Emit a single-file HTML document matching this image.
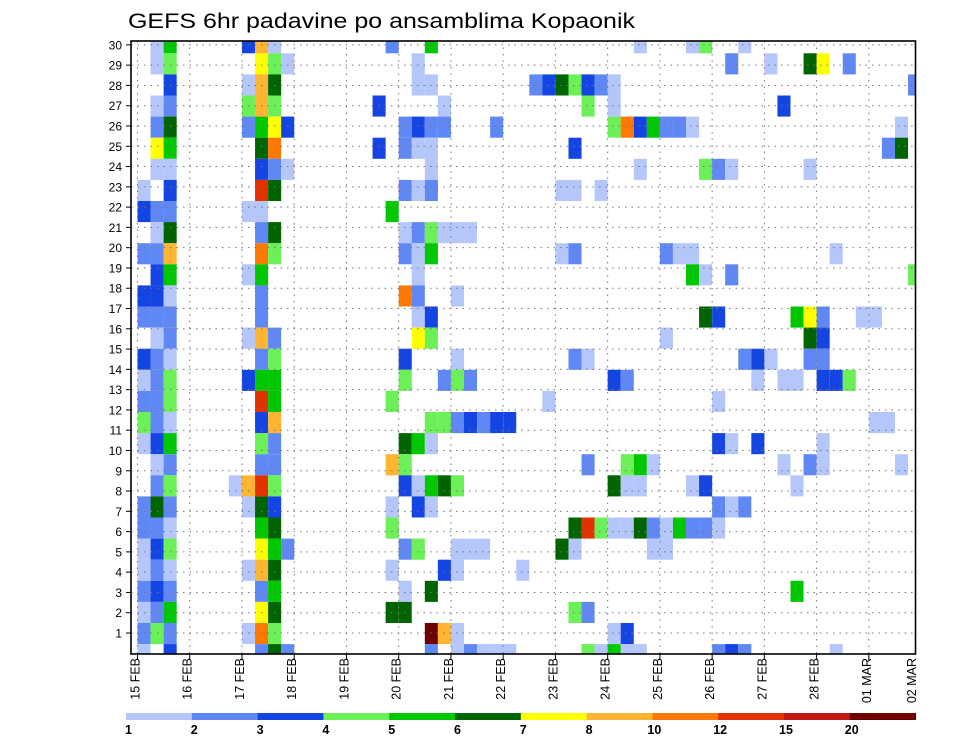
<!DOCTYPE html>
<html><head><meta charset="utf-8"><style>
html,body{margin:0;padding:0;background:#fff;}
svg{display:block;font-family:"Liberation Sans",sans-serif;}
</style></head><body>
<svg id="chart" width="960" height="742" viewBox="0 0 960 742" xmlns="http://www.w3.org/2000/svg">
<rect width="960" height="742" fill="#fff"/>
<text x="128" y="28" font-size="21" textLength="507" lengthAdjust="spacingAndGlyphs" fill="#000">GEFS 6hr padavine po ansamblima Kopaonik</text>
<g id="grid"></g><g id="cells"></g><g id="axes"></g><g id="legend"></g>
</svg>
<script>
// ---- data ----
const dayLabels = ["15 FEB","16 FEB","17 FEB","18 FEB","19 FEB","20 FEB","21 FEB","22 FEB","23 FEB","24 FEB","25 FEB","26 FEB","27 FEB","28 FEB","01 MAR","02 MAR"];
const memberTicks = [1,2,3,4,5,6,7,8,9,10,11,12,13,14,15,16,17,18,19,20,21,22,23,24,25,26,27,28,29,30];
const levelBounds = [1,2,3,4,5,6,7,8,10,12,15,20];
const levelLabels = ["1","2","3","4","5","6","7","8","10","12","15","20"];
const levelColors = ["#b4c6fa","#5f88f5","#1444e2","#6cf057","#00c800","#006400","#ffff00","#ffb432","#ff7800","#e23200","#c01818","#6e0000"];
// rows top->bottom, each entry [6h step index, precipitation mm]
const memberPrecip = [
[[1,1.5],[2,5.5],[8,3.5],[9,9],[10,1.5],[19,2.5],[22,5.5],[38,1.5],[42,1.5],[43,4.5],[46,1.5]],
[[1,1.5],[2,4.5],[9,7.5],[10,4.5],[11,1.5],[21,1.5],[45,2.5],[48,1.5],[51,6.5],[52,7.5],[54,2.5]],
[[2,3.5],[8,1.5],[9,9],[10,6.5],[21,1.5],[22,1.5],[30,2.5],[31,3.5],[32,6.5],[33,4.5],[34,3.5],[35,2.5],[36,1.5],[59,2.5]],
[[1,1.5],[2,2.5],[8,4.5],[9,9],[10,4.5],[18,3.5],[23,1.5],[34,4.5],[36,1.5],[49,3.5]],
[[1,2.5],[2,6.5],[8,2.5],[9,5.5],[10,7.5],[11,3.5],[20,2.5],[21,3.5],[22,2.5],[23,2.5],[27,2.5],[36,4.5],[37,11],[38,3.5],[39,5.5],[40,2.5],[41,2.5],[42,1.5],[58,1.5]],
[[1,7.5],[2,5.5],[9,6.5],[10,11],[18,3.5],[20,2.5],[21,1.5],[22,1.5],[33,3.5],[57,2.5],[58,6.5]],
[[1,1.5],[2,1.5],[9,3.5],[10,2.5],[11,1.5],[22,1.5],[38,1.5],[43,4.5],[44,2.5],[45,1.5],[51,1.5]],
[[0,1.5],[2,3.5],[9,13],[10,6.5],[20,2.5],[21,1.5],[22,2.5],[32,1.5],[33,1.5],[35,1.5]],
[[0,3.5],[1,2.5],[2,2.5],[8,1.5],[9,1.5],[19,5.5]],
[[1,1.5],[2,6.5],[9,2.5],[10,6.5],[20,1.5],[21,2.5],[22,4.5],[23,1.5],[24,1.5],[25,1.5]],
[[0,2.5],[1,2.5],[2,9],[9,11],[10,4.5],[20,2.5],[21,1.5],[22,5.5],[32,1.5],[33,2.5],[40,2.5],[41,1.5],[42,1.5],[53,1.5]],
[[1,3.5],[2,5.5],[8,1.5],[9,5.5],[21,1.5],[42,5.5],[43,1.5],[45,2.5],[59,4.5]],
[[0,3.5],[1,3.5],[2,1.5],[9,2.5],[20,11],[21,2.5],[24,1.5]],
[[0,2.5],[1,2.5],[2,2.5],[9,2.5],[21,1.5],[22,3.5],[43,6.5],[44,3.5],[50,5.5],[51,7.5],[52,2.5],[55,1.5],[56,1.5]],
[[1,1.5],[2,2.5],[8,1.5],[9,9],[10,2.5],[21,7.5],[22,4.5],[40,1.5],[51,6.5],[52,3.5]],
[[0,3.5],[1,2.5],[2,1.5],[9,2.5],[10,4.5],[20,3.5],[24,1.5],[33,2.5],[34,1.5],[46,2.5],[47,3.5],[48,1.5],[51,2.5],[52,2.5]],
[[0,1.5],[1,2.5],[2,4.5],[8,3.5],[9,5.5],[10,5.5],[20,4.5],[23,2.5],[24,4.5],[25,2.5],[36,3.5],[37,2.5],[47,1.5],[49,1.5],[50,1.5],[52,3.5],[53,3.5],[54,4.5]],
[[0,2.5],[1,2.5],[2,4.5],[9,13],[10,5.5],[19,4.5],[31,1.5],[44,1.5]],
[[0,4.5],[1,2.5],[2,1.5],[9,3.5],[10,9],[22,4.5],[23,4.5],[24,2.5],[25,3.5],[26,2.5],[27,3.5],[28,3.5],[56,1.5],[57,1.5]],
[[0,1.5],[1,3.5],[2,5.5],[9,4.5],[10,2.5],[20,6.5],[21,5.5],[22,1.5],[44,3.5],[45,1.5],[47,3.5],[52,1.5]],
[[1,1.5],[2,2.5],[9,2.5],[10,2.5],[19,9],[20,4.5],[34,2.5],[37,4.5],[38,5.5],[39,1.5],[49,1.5],[51,2.5],[52,1.5],[58,1.5]],
[[1,2.5],[2,4.5],[7,1.5],[8,9],[9,13],[10,4.5],[20,3.5],[21,1.5],[22,5.5],[23,6.5],[24,4.5],[36,6.5],[37,1.5],[38,1.5],[42,1.5],[43,3.5],[50,1.5]],
[[0,2.5],[1,6.5],[2,2.5],[8,1.5],[9,6.5],[10,3.5],[19,1.5],[21,3.5],[22,1.5],[44,2.5],[45,1.5],[46,2.5]],
[[0,2.5],[1,2.5],[2,1.5],[9,5.5],[10,6.5],[19,4.5],[33,6.5],[34,13],[35,4.5],[36,1.5],[37,1.5],[38,6.5],[39,2.5],[40,1.5],[41,5.5],[42,2.5],[43,2.5],[44,1.5]],
[[0,1.5],[1,3.5],[2,4.5],[9,7.5],[10,5.5],[11,2.5],[20,2.5],[21,4.5],[24,1.5],[25,1.5],[26,1.5],[32,6.5],[33,1.5],[39,1.5],[40,1.5]],
[[0,1.5],[1,2.5],[2,1.5],[8,1.5],[9,9],[10,6.5],[19,1.5],[23,3.5],[24,1.5],[29,1.5]],
[[0,2.5],[1,3.5],[2,2.5],[9,2.5],[10,5.5],[20,1.5],[22,6.5],[50,5.5]],
[[0,1.5],[1,2.5],[2,5.5],[9,7.5],[10,6.5],[19,6.5],[20,6.5],[33,4.5],[34,2.5]],
[[0,2.5],[1,4.5],[2,2.5],[8,1.5],[9,11],[10,4.5],[22,25],[23,9],[24,1.5],[36,1.5],[37,3.5]],
[[0,1.5],[2,3.5],[9,2.5],[10,6.5],[11,2.5],[22,2.5],[24,1.5],[25,2.5],[26,1.5],[27,1.5],[28,1.5],[34,4.5],[35,1.5],[36,5.5],[37,1.5],[38,1.5],[44,2.5],[45,3.5],[46,2.5],[53,1.5]]
];
// ---- geometry ----
const NS="http://www.w3.org/2000/svg";
const PL=131, PR=915.5, PT=41, PB=654;
const STEP=13.06, X0=137.5;
function xStep(t){return X0+STEP*t;}
function yRowTop(i){return 32.2+21.1*i;}
const ROWH=21.1;
function yTick(m){return 633-20.28*(m-1);}
function colorFor(v){let c=-1;for(let i=0;i<levelBounds.length;i++){if(v>=levelBounds[i])c=i;}return c<0?null:levelColors[c];}
function mk(tag,attrs,parent){const e=document.createElementNS(NS,tag);for(const k in attrs)e.setAttribute(k,attrs[k]);parent.appendChild(e);return e;}

const grid=document.getElementById('grid'), cells=document.getElementById('cells'), axes=document.getElementById('axes'), legend=document.getElementById('legend');

// cells
memberPrecip.forEach((row,i)=>{
  row.forEach(([t,v])=>{
    const col=colorFor(v); if(!col) return;
    let x1=Math.max(PL,xStep(t)), x2=Math.min(PR,xStep(t+1));
    let y1=Math.max(PT,yRowTop(i)), y2=Math.min(PB,yRowTop(i)+ROWH);
    if(x2<=x1||y2<=y1) return;
    const r=mk('rect',{x:x1,y:y1,width:x2-x1,height:y2-y1,fill:col},cells);
    
    
  });
});
// gridlines (drawn over cells as dots)
cells.parentNode.insertBefore(cells,grid);
memberTicks.forEach(m=>{
  const y=yTick(m);
  const l=mk('line',{x1:PL,x2:PR,y1:y,y2:y,stroke:'#777','stroke-width':1,'stroke-dasharray':'1.5,5'},grid);
  
  
  const tk=mk('line',{x1:PL-5,x2:PL,y1:y,y2:y,stroke:'#000','stroke-width':1},axes);
  
  
  const tx=mk('text',{x:PL-9,y:y+4.5,'font-size':12,'text-anchor':'end',fill:'#000'},axes);
  tx.textContent=String(m);
  
  
});
dayLabels.forEach((d,i)=>{
  const x=xStep(i*4);
  if(x>PL+2 && x<PR-1){
    const l=mk('line',{x1:x,x2:x,y1:PT,y2:PB,stroke:'#777','stroke-width':1,'stroke-dasharray':'1.5,5'},grid);
    
    
  }
  if(x<=PR+1){
    const tk=mk('line',{x1:x,x2:x,y1:PB,y2:PB+6,stroke:'#000','stroke-width':1},axes);
    
    
  }
  const lx=Math.min(x-2,912)+4;
  const tx=mk('text',{x:lx,y:PB+4,'font-size':12.5,'text-anchor':'end',transform:`rotate(-90 ${lx} ${PB+4})`,fill:'#000'},axes);
  tx.textContent=d;
  
  
});
const frame=mk('rect',{x:PL,y:PT,width:PR-PL,height:PB-PT,fill:'none',stroke:'#000','stroke-width':1.6},axes);



// colorbar legend
const LX=126, LW=65.8, LY=713, LH=7;
levelColors.forEach((c,i)=>{
  const r=mk('rect',{x:LX+LW*i,y:LY,width:LW+0.5,height:LH,fill:c},legend);
  
  
  const t=mk('text',{x:LX+LW*i+(levelLabels[i].length>1?-5:-1),y:LY+21,'font-size':12.5,'font-weight':'bold',fill:'#000'},legend);
  t.textContent=levelLabels[i];
  
  
});
</script>
</body></html>
